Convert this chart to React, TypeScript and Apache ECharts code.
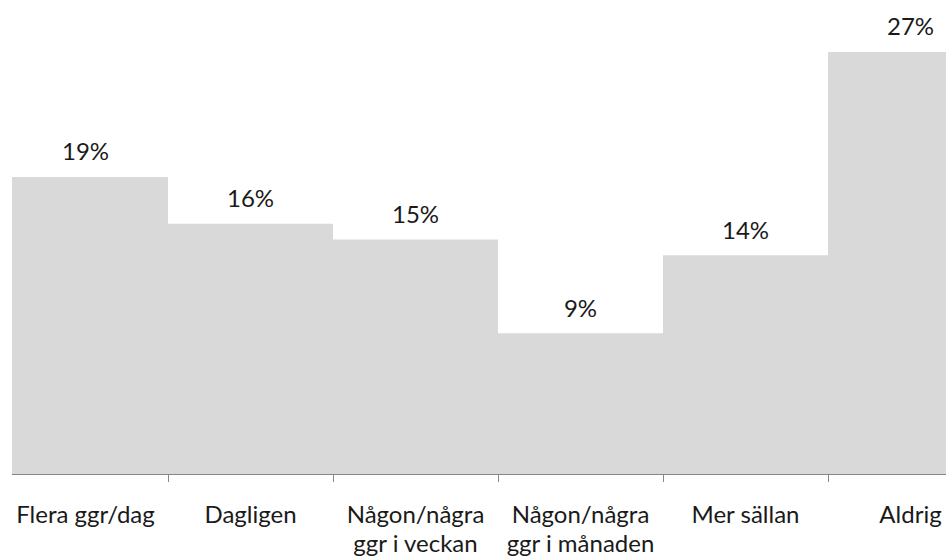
import React, { useEffect, useRef } from "react";
import * as echarts from "echarts";

const categories = [
  "Flera ggr/dag",
  "Dagligen",
  "Någon/några\nggr i veckan",
  "Någon/några\nggr i månaden",
  "Mer sällan",
  "Aldrig",
];
const values = [19, 16, 15, 9, 14, 27];

const FONT = "Lato, 'Open Sans', sans-serif";

export default function App() {
  const ref = useRef<HTMLDivElement>(null);
  useEffect(() => {
    document.body.style.margin = "0";
    document.body.style.overflow = "hidden";
    if (!ref.current) return;
    const chart = echarts.init(ref.current, undefined, { renderer: "svg" });
    chart.setOption({
      animation: false,
      backgroundColor: "#ffffff",
      grid: {
        left: 0,
        width: 990,
        top: 5,
        height: 469,
        containLabel: false,
        outerBoundsMode: "none",
      },
      xAxis: {
        type: "category",
        data: categories,
        axisLine: { show: true, lineStyle: { color: "#868686", width: 1 } },
        axisTick: { show: true, length: 8, lineStyle: { color: "#868686" } },
        axisLabel: {
          interval: 0,
          margin: 25,
          fontSize: 24,
          lineHeight: 29,
          color: "#1a1a1a",
          fontFamily: FONT,
          verticalAlign: "top",
        },
      },
      yAxis: {
        type: "value",
        min: 0,
        max: 30,
        show: false,
        splitLine: { show: false },
      },
      series: [
        {
          type: "bar",
          data: values,
          barCategoryGap: "0%",
          itemStyle: { color: "#d9d9d9" },
          label: {
            show: true,
            position: "top",
            distance: 14,
            formatter: "{c}%",
            fontSize: 24,
            color: "#1a1a1a",
            fontFamily: FONT,
          },
        },
      ],
    });
    return () => chart.dispose();
  }, []);
  return (
    <div
      style={{
        position: "fixed",
        left: 12,
        top: 0,
        width: 934,
        height: 560,
        overflow: "hidden",
        background: "#fff",
      }}
    >
      <div
        ref={ref}
        style={{ position: "absolute", left: -9, top: 0, width: 1000, height: 560 }}
      />
    </div>
  );
}
